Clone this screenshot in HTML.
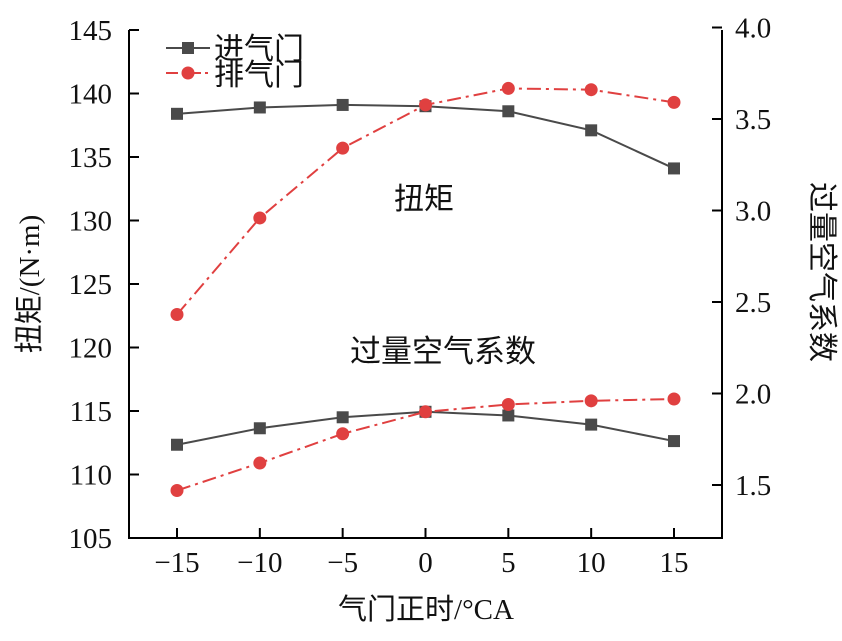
<!DOCTYPE html>
<html><head><meta charset="utf-8"><style>
body{margin:0;background:#fff}
svg text{font-family:"Liberation Serif","Noto Sans CJK SC",serif;fill:#111}
svg text.cjk{font-family:"Liberation Serif","Noto Sans CJK SC",sans-serif}
</style></head><body>
<svg id="chart" width="842" height="636" xmlns="http://www.w3.org/2000/svg"></svg>
<script>
const xCats=[-15,-10,-5,0,5,10,15];
const torqueIntake=[138.4,138.9,139.1,139.0,138.6,137.1,134.1];
const torqueExhaust=[122.6,130.2,135.7,139.1,140.4,140.3,139.3];
const lambdaIntake=[1.72,1.81,1.87,1.90,1.88,1.83,1.74];
const lambdaExhaust=[1.47,1.62,1.78,1.90,1.94,1.96,1.97];
const leftTicks=[105,110,115,120,125,130,135,140,145];
const rightTicks=[1.5,2.0,2.5,3.0,3.5,4.0];
const xTickLabels=["\u221215","\u221210","\u22125","0","5","10","15"];

const svg=document.getElementById('chart');
const NS='http://www.w3.org/2000/svg';
const L=129,R=722,T=30,B=538;
const xs=v=>177+(v+15)*(674-177)/30;
const yl=v=>B-(v-105)*(B-T)/40;
const yr=v=>485-(v-1.5)*(485-119)/2;
function el(tag,at,parent){const e=document.createElementNS(NS,tag);for(const k in at)e.setAttribute(k,at[k]);(parent||svg).appendChild(e);return e;}
function txt(s,at){const e=el('text',at);e.textContent=s;return e;}

let a=el('path',{d:`M${L},${T}V${B}H${R}V${T}`,fill:'none',stroke:'#000','stroke-width':2});

leftTicks.forEach(v=>{const y=yl(v);el('line',{x1:L,x2:L+10,y1:y,y2:y,stroke:'#000','stroke-width':2});
 const t=txt(v,{x:L-17,y:y+10,'text-anchor':'end','font-size':29});
 });
rightTicks.forEach(v=>{const y=yr(v);el('line',{x1:R,x2:R-10,y1:y,y2:y,stroke:'#000','stroke-width':2});
 const t=txt(v.toFixed(1),{x:R+13,y:y+10,'font-size':29});
 });
xCats.forEach((v,i)=>{const x=xs(v);el('line',{x1:x,x2:x,y1:B,y2:B-10,stroke:'#000','stroke-width':2});
 const t=txt(xTickLabels[i],{x:x,y:B+34,'text-anchor':'middle','font-size':29});
 });

function series(vals,yf,color,dash,marker,name){
 const g=el('g',{});
 
 el('polyline',{points:vals.map((v,i)=>xs(xCats[i])+','+yf(v)).join(' '),fill:'none',stroke:color,'stroke-width':2,'stroke-dasharray':dash},g);
 vals.forEach((v,i)=>{const x=xs(xCats[i]),y=yf(v);let m;
  if(marker==='sq')m=el('rect',{x:x-6,y:y-6,width:12,height:12,fill:color},g);
  else m=el('circle',{cx:x,cy:y,r:6.5,fill:color},g);
  });
}
const gray='#4a4a4a',red='#e04040',dd='14,5,3,5';
series(torqueIntake,yl,gray,'none','sq','torque-intake-series');
series(torqueExhaust,yl,red,dd,'ci','torque-exhaust-series');
series(lambdaIntake,yr,gray,'none','sq','lambda-intake-series');
series(lambdaExhaust,yr,red,dd,'ci','lambda-exhaust-series');

el('line',{x1:166,x2:210,y1:48,y2:48,stroke:gray,'stroke-width':2});
el('rect',{x:182,y:42,width:12,height:12,fill:gray});
el('line',{x1:166,x2:210,y1:73,y2:73,stroke:red,'stroke-width':2,'stroke-dasharray':'12,4,3,4'});
el('circle',{cx:188,cy:73,r:6.5,fill:red});
let t=txt('进气门',{x:214,y:59,'font-size':30,'class':'cjk'});
t=txt('排气门',{x:214,y:85,'font-size':30,'class':'cjk'});

t=txt('扭矩',{x:424,y:209,'text-anchor':'middle','font-size':30,'class':'cjk'});
t=txt('过量空气系数',{x:443,y:362,'text-anchor':'middle','font-size':31,'class':'cjk'});
t=txt('气门正时/°CA',{x:426,y:619,'text-anchor':'middle','font-size':29,'class':'cjk'});
t=txt('扭矩/(N·m)',{x:0,y:0,'text-anchor':'middle','font-size':29,'class':'cjk',transform:'translate(39,284) rotate(-90)'});
t=txt('过量空气系数',{x:0,y:0,'text-anchor':'middle','font-size':30,'class':'cjk',transform:'translate(812,272) rotate(90)'});
</script>
</body></html>
